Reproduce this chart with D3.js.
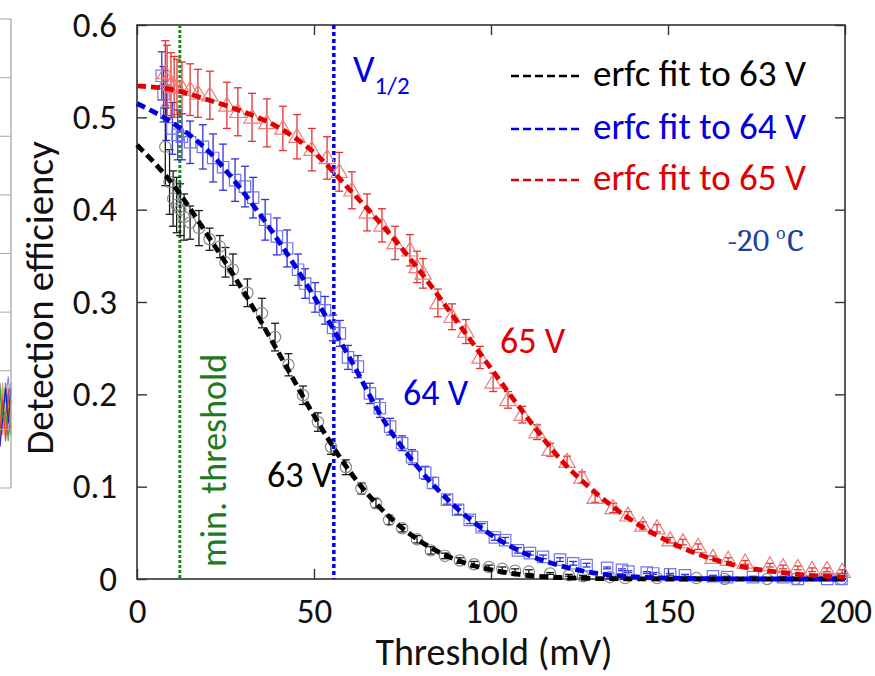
<!DOCTYPE html>
<html>
<head>
<meta charset="utf-8">
<script src="https://cdn.jsdelivr.net/npm/d3@7"></script>
<style>
  html, body { margin: 0; padding: 0; background: #fff; }
  svg { display: block; }
  text { font-family: Carlito, Lato, "Open Sans", sans-serif; }
</style>
</head>
<body>
<svg id="chart" width="875" height="676"></svg>
<script>
// ---- Axis ticks ----
const xTicks = [0, 50, 100, 150, 200];
const yTicks = [0, 0.1, 0.2, 0.3, 0.4, 0.5, 0.6];

// ---- Measured detection efficiency at 63 V: threshold (mV), efficiency, error ----
const th63  = [8.0, 9.2, 10.2, 11.2, 12.2, 13.3, 15.0, 17.5, 20.5, 23.4, 25.0, 27.1, 31.2, 35.3, 39.0, 42.8, 46.9, 51.1, 54.8, 59.0, 63.4, 67.5, 71.2, 74.9, 79.1, 83.0, 87.0, 91.2, 95.2, 99.4, 103.2, 106.8, 110.7, 116.7, 122.0, 126.0, 133.6, 137.9, 146.9, 158.0, 166.0, 178.0, 186.0, 199.0];
const eff63 = [0.468, 0.430, 0.412, 0.405, 0.400, 0.392, 0.386, 0.380, 0.368, 0.360, 0.343, 0.335, 0.310, 0.288, 0.262, 0.232, 0.199, 0.170, 0.143, 0.121, 0.098, 0.082, 0.064, 0.055, 0.043, 0.031, 0.025, 0.020, 0.016, 0.013, 0.011, 0.009, 0.008, 0.006, 0.004, 0.003, 0.002, 0.001, 0.001, 0.001, 0.000, 0.000, 0.000, 0.000];
const err63 = [0.042, 0.035, 0.030, 0.030, 0.028, 0.025, 0.018, 0.019, 0.012, 0.012, 0.016, 0.017, 0.015, 0.016, 0.015, 0.012, 0.010, 0.010, 0.008, 0.008, 0.006, 0.005, 0.005, 0.004, 0.004, 0.004, 0.003, 0.003, 0.003, 0.002, 0.002, 0.002, 0.002, 0.001, 0.001, 0.001, 0.001, 0.001, 0.001, 0.001, 0.000, 0.000, 0.000, 0.000];

// ---- Measured detection efficiency at 64 V ----
const th64  = [7.0, 7.5, 8.3, 10.0, 11.5, 12.7, 15.0, 18.6, 21.5, 24.3, 27.7, 30.5, 32.8, 36.2, 39.5, 42.4, 45.5, 47.5, 50.3, 53.1, 55.4, 57.3, 59.6, 62.4, 65.8, 68.6, 71.5, 74.9, 77.7, 81.4, 83.6, 87.6, 90.7, 94.0, 97.4, 101.1, 104.0, 107.6, 111.0, 114.7, 119.5, 123.2, 127.0, 132.8, 137.0, 138.8, 144.0, 145.8, 150.6, 154.8, 162.7, 166.7, 174.0, 182.5, 186.7, 195.0, 199.0];
const eff64 = [0.545, 0.525, 0.505, 0.488, 0.481, 0.479, 0.473, 0.468, 0.456, 0.446, 0.432, 0.425, 0.413, 0.389, 0.371, 0.358, 0.335, 0.320, 0.305, 0.291, 0.272, 0.266, 0.240, 0.230, 0.201, 0.185, 0.165, 0.147, 0.132, 0.115, 0.104, 0.086, 0.075, 0.064, 0.056, 0.045, 0.042, 0.031, 0.028, 0.024, 0.021, 0.017, 0.015, 0.012, 0.010, 0.008, 0.007, 0.006, 0.005, 0.004, 0.003, 0.002, 0.002, 0.002, 0.000, 0.000, 0.000];
const err64 = [0.026, 0.030, 0.030, 0.028, 0.027, 0.025, 0.023, 0.024, 0.026, 0.025, 0.023, 0.022, 0.022, 0.022, 0.020, 0.020, 0.017, 0.016, 0.016, 0.015, 0.014, 0.014, 0.013, 0.012, 0.011, 0.010, 0.009, 0.008, 0.008, 0.007, 0.006, 0.005, 0.005, 0.004, 0.004, 0.003, 0.003, 0.003, 0.002, 0.002, 0.002, 0.002, 0.002, 0.001, 0.001, 0.001, 0.001, 0.001, 0.001, 0.001, 0.001, 0.001, 0.001, 0.001, 0.000, 0.000, 0.000];

// ---- Measured detection efficiency at 65 V ----
const th65  = [8.0, 8.5, 9.6, 10.5, 11.3, 12.7, 15.0, 17.2, 20.6, 25.4, 28.5, 32.5, 36.7, 41.2, 45.2, 49.4, 53.7, 57.1, 60.7, 65.0, 69.2, 72.9, 77.1, 79.1, 80.8, 85.0, 89.0, 92.9, 96.9, 100.6, 104.8, 108.8, 113.0, 116.7, 121.5, 125.7, 129.4, 134.5, 138.7, 142.9, 146.9, 150.6, 154.2, 158.5, 162.7, 167.0, 171.8, 178.8, 182.5, 186.7, 190.7, 194.9, 199.2];
const eff65 = [0.548, 0.540, 0.535, 0.533, 0.533, 0.532, 0.530, 0.526, 0.524, 0.513, 0.506, 0.500, 0.494, 0.488, 0.479, 0.465, 0.456, 0.441, 0.421, 0.397, 0.383, 0.364, 0.356, 0.338, 0.331, 0.299, 0.284, 0.268, 0.240, 0.213, 0.194, 0.178, 0.159, 0.140, 0.127, 0.110, 0.088, 0.077, 0.069, 0.058, 0.055, 0.042, 0.040, 0.035, 0.023, 0.021, 0.018, 0.015, 0.013, 0.012, 0.010, 0.010, 0.008];
const err65 = [0.035, 0.038, 0.035, 0.033, 0.030, 0.028, 0.028, 0.026, 0.026, 0.025, 0.026, 0.026, 0.026, 0.024, 0.024, 0.023, 0.023, 0.021, 0.020, 0.020, 0.018, 0.018, 0.017, 0.017, 0.016, 0.015, 0.014, 0.013, 0.012, 0.010, 0.009, 0.009, 0.008, 0.007, 0.006, 0.006, 0.005, 0.005, 0.004, 0.004, 0.004, 0.003, 0.003, 0.003, 0.002, 0.002, 0.002, 0.002, 0.002, 0.002, 0.002, 0.002, 0.002];

// ---- erfc fit curves, sampled every 10 mV ----
const fitX   = [0, 10, 20, 30, 40, 50, 60, 70, 80, 90, 100, 110, 120, 130, 140, 150, 160, 170, 180, 190, 200];
const fit63  = [0.470, 0.428, 0.372, 0.312, 0.245, 0.177, 0.117, 0.072, 0.041, 0.021, 0.010, 0.004, 0.0015, 0.0005, 0.0002, 0, 0, 0, 0, 0, 0];
const fit64  = [0.515, 0.494, 0.464, 0.419, 0.366, 0.306, 0.240, 0.170, 0.118, 0.078, 0.048, 0.027, 0.014, 0.006, 0.0025, 0.001, 0.0004, 0.0001, 0, 0, 0];
const fit65  = [0.534, 0.530, 0.519, 0.506, 0.489, 0.462, 0.422, 0.380, 0.333, 0.281, 0.228, 0.176, 0.128, 0.092, 0.063, 0.041, 0.025, 0.014, 0.008, 0.004, 0.002];

// ---- Reference lines (mV) ----
const minThreshold = 12.1;
const vHalf = 55.6;

// ---- Neighbouring panel sliver on the left edge ----
const sliverGrid = [0, 1, 2, 3, 4, 5, 6, 7, 8];
const sliverColors = ["#d62728", "#1f77b4", "#2ca02c", "#9467bd", "#ff7f0e", "#17becf", "#8c564b", "#e377c2", "#bcbd22", "#0000cc", "#2ca02c", "#d62728"];
const sliverTraces = [
  [1.2, 1.6, 1.0, 1.7, 1.3], [1.6, 1.1, 1.8, 1.2, 1.5], [0.9, 1.4, 1.2, 0.8, 1.3],
  [1.8, 1.3, 1.5, 1.9, 1.4], [1.1, 1.7, 0.9, 1.5, 1.0], [1.5, 1.0, 1.6, 1.1, 1.8],
  [0.8, 1.3, 1.1, 1.6, 0.9], [1.4, 0.9, 1.4, 1.0, 1.6], [1.3, 1.8, 1.0, 1.4, 1.1],
  [0.7, 1.2, 1.7, 1.1, 1.7], [1.7, 1.2, 1.3, 0.9, 1.2], [1.0, 1.5, 0.8, 1.3, 1.5]
];

const svg = d3.select("#chart");

const x = d3.scaleLinear().domain([0, 200]).range([137, 845]);
const y = d3.scaleLinear().domain([0, 0.6]).range([579, 25]);

// Sliver of the adjacent panel
const sx = d3.scaleLinear().domain([0, 4]).range([0, 11]);
const sy = d3.scaleLinear().domain([0, 8]).range([488, 19]);
const sliver = svg.append("g");
const sliverLine = d3.line().x((d, i) => sx(i)).y(d => sy(d));
sliver.selectAll("path.trace").data(sliverTraces).join("path")
  .attr("d", sliverLine).attr("fill", "none")
  .attr("stroke", (d, i) => sliverColors[i]).attr("stroke-width", 1.1).attr("opacity", 0.85);
sliver.selectAll("line.grid").data(sliverGrid).join("line")
  .attr("x1", 0).attr("x2", sx(4))
  .attr("y1", d => sy(d)).attr("y2", d => sy(d))
  .attr("stroke", "#a8a8a8").attr("stroke-width", 1);
sliver.append("line").attr("x1", sx(4)).attr("x2", sx(4))
  .attr("y1", sy(0)).attr("y2", sy(8))
  .attr("stroke", "#a0a0a0").attr("stroke-width", 1.2);

// Plot frame
svg.append("rect")
  .attr("x", x(0)).attr("y", y(0.6))
  .attr("width", x(200) - x(0)).attr("height", y(0) - y(0.6))
  .attr("fill", "none").attr("stroke", "#333").attr("stroke-width", 1.6);

// Axes with inward ticks
const fmtY = d => d === 0 ? "0" : d3.format(".1f")(d);
const axB = svg.append("g").attr("transform", `translate(0,${y(0)})`)
  .call(d3.axisBottom(x).tickValues(xTicks).tickSizeInner(-10).tickSizeOuter(0).tickPadding(19));
const axL = svg.append("g").attr("transform", `translate(${x(0)},0)`)
  .call(d3.axisLeft(y).tickValues(yTicks).tickFormat(fmtY).tickSizeInner(-10).tickSizeOuter(0).tickPadding(20));
const axT = svg.append("g").attr("transform", `translate(0,${y(0.6)})`)
  .call(d3.axisTop(x).tickValues(xTicks).tickSizeInner(-10).tickSizeOuter(0).tickFormat(""));
const axR = svg.append("g").attr("transform", `translate(${x(200)},0)`)
  .call(d3.axisRight(y).tickValues(yTicks).tickSizeInner(-10).tickSizeOuter(0).tickFormat(""));
[axB, axL, axT, axR].forEach(g => {
  g.select(".domain").remove();
  g.selectAll(".tick line").attr("stroke", "#333").attr("stroke-width", 1.4);
  g.selectAll(".tick text").attr("fill", "#111").attr("font-size", 35)
    .style("font-family", "Carlito, Lato, 'Open Sans', sans-serif");
});

// Axis titles
svg.append("text").attr("x", 494).attr("y", 665).attr("text-anchor", "middle")
  .attr("font-size", 38).attr("fill", "#111").text("Threshold (mV)");
svg.append("text").attr("transform", "translate(53,298) rotate(-90)").attr("text-anchor", "middle")
  .attr("font-size", 39).attr("fill", "#111").text("Detection efficiency");

// Reference vertical lines
svg.append("line").attr("x1", x(minThreshold)).attr("x2", x(minThreshold))
  .attr("y1", y(0.6)).attr("y2", y(0))
  .attr("stroke", "#1a8c1a").attr("stroke-width", 3).attr("stroke-dasharray", "3,2");
svg.append("line").attr("x1", x(vHalf)).attr("x2", x(vHalf))
  .attr("y1", y(0.6)).attr("y2", y(0))
  .attr("stroke", "#0000ee").attr("stroke-width", 3.5).attr("stroke-dasharray", "4,3");

// Series data and styling
const series = [
  { th: th63, eff: eff63, err: err63, fit: fit63, bar: "#1a1a1a", mark: "#8a8a8a", line: "#000000", shape: "circle" },
  { th: th64, eff: eff64, err: err64, fit: fit64, bar: "#3232d8", mark: "#7474f0", line: "#0000dd", shape: "square" },
  { th: th65, eff: eff65, err: err65, fit: fit65, bar: "#e03434", mark: "#f27a7a", line: "#e00000", shape: "triangle" }
];

const cap = 4;
series.forEach(s => {
  const pts = s.th.map((t, i) => ({ t, v: s.eff[i], e: s.err[i] }));
  const g = svg.append("g");
  // error bars
  const eb = g.selectAll("g.eb").data(pts).join("g");
  eb.append("line").attr("x1", d => x(d.t)).attr("x2", d => x(d.t))
    .attr("y1", d => y(d.v - d.e)).attr("y2", d => y(d.v + d.e));
  eb.append("line").attr("x1", d => x(d.t) - cap).attr("x2", d => x(d.t) + cap)
    .attr("y1", d => y(d.v - d.e)).attr("y2", d => y(d.v - d.e));
  eb.append("line").attr("x1", d => x(d.t) - cap).attr("x2", d => x(d.t) + cap)
    .attr("y1", d => y(d.v + d.e)).attr("y2", d => y(d.v + d.e));
  eb.selectAll("line").attr("stroke", s.bar).attr("stroke-width", 1.3);
  // markers
  const sym = s.shape === "circle" ? d3.symbolCircle : s.shape === "square" ? d3.symbolSquare : d3.symbolTriangle;
  const size = s.shape === "circle" ? 100 : s.shape === "square" ? 130 : 115;
  g.selectAll("path.m").data(pts).join("path")
    .attr("d", d3.symbol().type(sym).size(size))
    .attr("transform", d => `translate(${x(d.t)},${y(d.v) + (s.shape === "triangle" ? 1 : 0)})`)
    .attr("fill", "none").attr("stroke", s.mark).attr("stroke-width", 1.2);
});

// Fit curves drawn over the data
series.forEach(s => {
  const line = d3.line().x((d, i) => x(fitX[i])).y(d => y(d)).curve(d3.curveMonotoneX);
  svg.append("path").datum(s.fit).attr("d", line)
    .attr("fill", "none").attr("stroke", s.line).attr("stroke-width", 4.8)
    .attr("stroke-dasharray", "9,5").attr("stroke-linecap", "butt");
});

// Legend
const legend = [
  { label: "erfc fit to 63 V", color: "#000000", ly: 76 },
  { label: "erfc fit to 64 V", color: "#0000dd", ly: 129 },
  { label: "erfc fit to 65 V", color: "#e00000", ly: 180 }
];
const lg = svg.append("g");
legend.forEach(d => {
  lg.append("line").attr("x1", 511).attr("x2", 579).attr("y1", d.ly).attr("y2", d.ly)
    .attr("stroke", d.color).attr("stroke-width", 2.6).attr("stroke-dasharray", "8,4");
  lg.append("text").attr("x", 593).attr("y", d.ly + 10).attr("font-size", 37)
    .attr("fill", d.color).text(d.label);
});

// Temperature note
const temp = svg.append("text").attr("x", 727).attr("y", 251).attr("fill", "#1f3f9f")
  .attr("font-size", 32).style("font-family", "Cambria, 'Liberation Serif', 'DejaVu Serif', serif");
temp.append("tspan").text("-20 ");
temp.append("tspan").attr("font-size", 19).attr("dy", -12).text("o");
temp.append("tspan").attr("dy", 12).attr("dx", 2).text("C");

// V1/2 label
const vh = svg.append("text").attr("x", 353).attr("y", 82).attr("fill", "#0000ee").attr("font-size", 38);
vh.append("tspan").text("V");
vh.append("tspan").attr("font-size", 25).attr("dy", 12).text("1/2");

// Curve labels
svg.append("text").attr("x", 500).attr("y", 353).attr("font-size", 36).attr("fill", "#e00000").text("65 V");
svg.append("text").attr("x", 403).attr("y", 405).attr("font-size", 36).attr("fill", "#0000dd").text("64 V");
svg.append("text").attr("x", 267).attr("y", 487).attr("font-size", 36).attr("fill", "#000").text("63 V");

// min. threshold label
svg.append("text").attr("transform", "translate(226,567) rotate(-90)")
  .attr("font-size", 36).attr("fill", "#1e7a1e").text("min. threshold");
</script>
</body>
</html>
